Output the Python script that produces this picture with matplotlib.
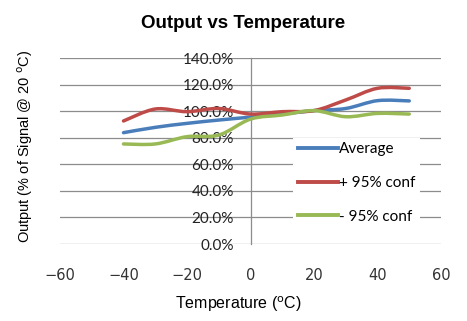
import matplotlib
matplotlib.use("Agg")
import matplotlib.pyplot as plt
from matplotlib.path import Path
from matplotlib.patches import PathPatch

temps = [-40, -30, -20, -10, 0, 10, 20, 30, 40, 50]
average = [83.8, 87.8, 90.8, 93.3, 95.5, 97.8, 100.4, 102.0, 107.9, 107.7]
plus95 = [92.6, 101.6, 99.6, 102.0, 97.8, 99.6, 100.4, 108.4, 117.2, 117.2]
minus95 = [75.3, 75.3, 80.8, 82.0, 94.0, 97.1, 100.4, 95.8, 98.3, 97.8]
series_names = ["Average", "+ 95% conf", "- 95% conf"]
colors = ["#4A7EBB", "#BE4B48", "#98B954"]
yticks = [0, 20, 40, 60, 80, 100, 120, 140]
xticks = [-60, -40, -20, 0, 20, 40, 60]


def smooth_path(xs, ys):
    pts = list(zip(xs, ys))
    verts = [pts[0]]
    codes = [Path.MOVETO]
    n = len(pts)
    for i in range(n - 1):
        p0 = pts[i - 1] if i > 0 else pts[i]
        p1 = pts[i]
        p2 = pts[i + 1]
        p3 = pts[i + 2] if i + 2 < n else pts[i + 1]
        c1 = (p1[0] + (p2[0] - p0[0]) / 6, p1[1] + (p2[1] - p0[1]) / 6)
        c2 = (p2[0] - (p3[0] - p1[0]) / 6, p2[1] - (p3[1] - p1[1]) / 6)
        verts += [c1, c2, p2]
        codes += [Path.CURVE4] * 3
    return Path(verts, codes)


fig = plt.figure(figsize=(4.67, 3.21), dpi=100)
ax = fig.add_axes([60 / 467, 1 - 244 / 321, 381 / 467, 186 / 321])
ax.set_xlim(-60, 60)
ax.set_ylim(0, 140)

for v in yticks:
    ax.axhline(v, color="#8c8c8c", lw=0.9, zorder=1)

for s in ["top", "right", "bottom"]:
    ax.spines[s].set_visible(False)
ax.spines["left"].set_position(("data", 0))
ax.spines["left"].set_color("#8c8c8c")
ax.spines["left"].set_linewidth(0.9)

ax.set_yticks(yticks)
ax.set_yticklabels([f"{v:.1f}%" for v in yticks], fontfamily="Lato", fontsize=11, color="#222222")
ax.tick_params(axis="y", length=0, pad=12)
ax.set_xticks(xticks)
ax.set_xticklabels([f"\u2212{abs(v)}" if v < 0 else str(v) for v in xticks],
                   fontfamily="DejaVu Sans", fontsize=10.5, color="#333333")
ax.tick_params(axis="x", length=0, pad=17)

handles = []
for ys, c, name in zip([average, plus95, minus95], colors, series_names):
    patch = PathPatch(smooth_path(temps, ys), facecolor="none", edgecolor=c, lw=2.5,
                      zorder=3, capstyle="round", joinstyle="round")
    ax.add_patch(patch)
    h, = ax.plot([], [], color=c, lw=2.8, label=name)
    handles.append(h)

leg = ax.legend(handles=handles, loc="center", bbox_to_anchor=(0.764, 0.43),
                bbox_transform=fig.transFigure, frameon=True, fancybox=False,
                framealpha=1, edgecolor="none", facecolor="white",
                prop={"family": "Lato", "size": 11}, handlelength=2.6,
                handletextpad=0.1, labelspacing=1.3, borderpad=0.3)
leg.set_zorder(5)

fig.text(0.52, 1 - 23 / 321, "Output vs Temperature", ha="center", va="center",
         fontfamily="Liberation Sans", fontweight="bold", fontsize=13.5)
fig.text(0.51, 1 - 304 / 321, "Temperature ($^{\\mathrm{o}}$C)", ha="center", va="center",
         fontfamily="Liberation Sans", fontsize=11.5)
fig.text(25 / 467, 1 - 146 / 321, "Output (% of Signal @ 20 $^{\\mathrm{o}}$C)", ha="center",
         va="center", rotation=90, fontfamily="Liberation Sans", fontsize=10.5)

fig.savefig("out.png", dpi=100)
